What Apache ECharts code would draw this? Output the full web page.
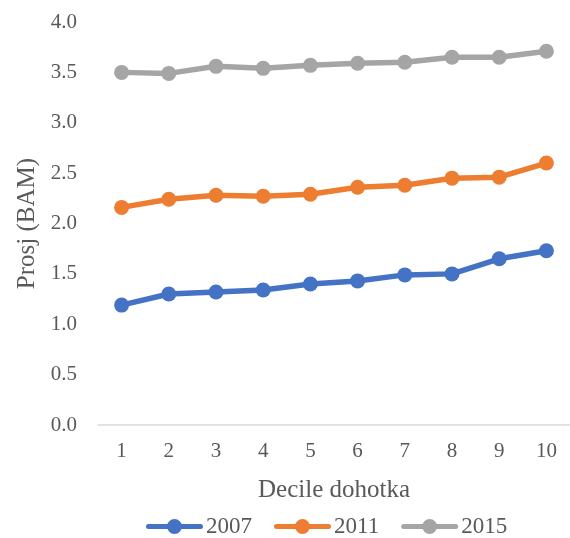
<!DOCTYPE html>
<html>
<head>
<meta charset="utf-8">
<script src="https://cdn.jsdelivr.net/npm/echarts@6/dist/echarts.min.js"></script>
<style>
  html, body { margin: 0; padding: 0; background: #fff; }
  #chart { width: 570px; height: 538px; }
</style>
</head>
<body>
<div id="chart"></div>
<script>
// Income deciles on the x axis
const deciles = ['1', '2', '3', '4', '5', '6', '7', '8', '9', '10'];

// Average values (BAM) per decile, one array per survey year
const s2007 = [1.19, 1.30, 1.32, 1.34, 1.40, 1.43, 1.49, 1.50, 1.65, 1.73];
const s2011 = [2.16, 2.24, 2.28, 2.27, 2.29, 2.36, 2.38, 2.45, 2.46, 2.60];
const s2015 = [3.50, 3.49, 3.56, 3.54, 3.57, 3.59, 3.60, 3.65, 3.65, 3.71];

const seriesNames = ['2007', '2011', '2015'];
const seriesColors = ['#4472C4', '#ED7D31', '#A5A5A5'];

const FONT = '"Liberation Serif", "DejaVu Serif", serif';
const TEXT = '#595959';

// Legend marker: thick rounded line with a dot in the middle (57 x 15 box)
const LEGEND_ICON = 'path://M2.5,5 L54.5,5 A2.5,2.5 0 0 1 54.5,10 L2.5,10 A2.5,2.5 0 0 1 2.5,5 Z ' +
  'M21,7.5 A7.5,7.5 0 1 1 36,7.5 A7.5,7.5 0 1 1 21,7.5 Z';

const chart = echarts.init(document.getElementById('chart'), null, { renderer: 'canvas' });

function lineSeries(name, data, color) {
  return {
    name: name,
    type: 'line',
    data: data,
    symbol: 'circle',
    symbolSize: 15,
    lineStyle: { width: 5.5, color: color },
    itemStyle: { color: color },
    emphasis: { disabled: true }
  };
}

chart.setOption({
  animation: false,
  textStyle: { fontFamily: FONT },
  grid: { left: 98, right: 0, top: 22, bottom: 113 },
  legend: {
    bottom: -5,
    left: 141,
    itemWidth: 57,
    itemHeight: 15,
    itemGap: 22,
    icon: LEGEND_ICON,
    textStyle: { fontFamily: FONT, fontSize: 23, color: TEXT, padding: [0, 0, 0, -2] },
    data: seriesNames
  },
  xAxis: {
    type: 'category',
    data: deciles,
    boundaryGap: true,
    name: 'Decile dohotka',
    nameLocation: 'middle',
    nameGap: 53,
    nameTextStyle: { fontFamily: FONT, fontSize: 25, color: TEXT },
    axisLine: { lineStyle: { color: '#D9D9D9', width: 1.5 } },
    axisTick: { show: false },
    axisLabel: { fontFamily: FONT, fontSize: 21, color: TEXT, margin: 16 }
  },
  yAxis: {
    type: 'value',
    min: 0,
    max: 4,
    interval: 0.5,
    name: 'Prosj (BAM)',
    nameLocation: 'middle',
    nameGap: 49,
    nameTextStyle: { fontFamily: FONT, fontSize: 25, color: TEXT },
    axisLine: { show: false },
    axisTick: { show: false },
    splitLine: { show: false },
    axisLabel: {
      fontFamily: FONT, fontSize: 21, color: TEXT, margin: 21,
      formatter: v => v.toFixed(1)
    }
  },
  series: [
    lineSeries(seriesNames[0], s2007, seriesColors[0]),
    lineSeries(seriesNames[1], s2011, seriesColors[1]),
    lineSeries(seriesNames[2], s2015, seriesColors[2])
  ]
});
</script>
</body>
</html>
